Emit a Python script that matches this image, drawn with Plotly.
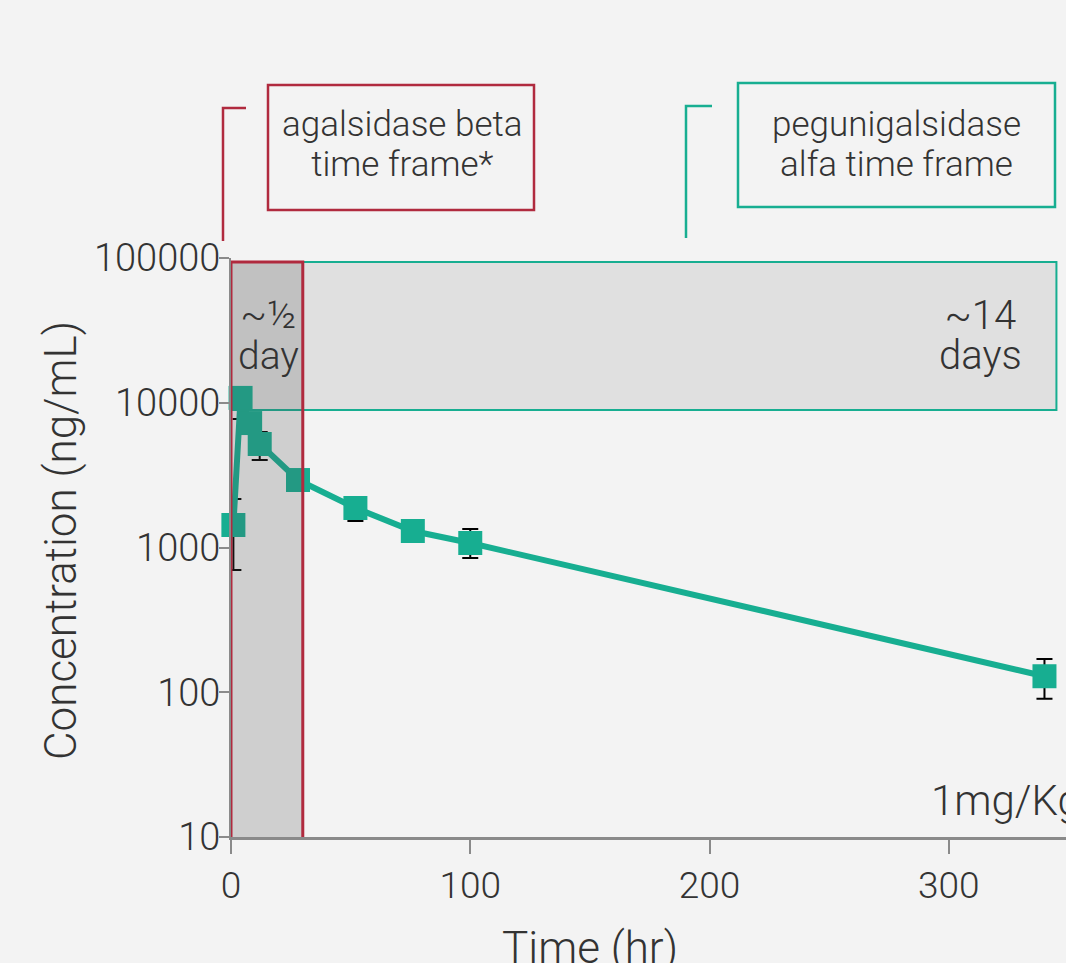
import plotly.graph_objects as go

# ---- data ----
time_hr = [1, 4, 8, 12, 28, 52, 76, 100, 340]
conc = [1430, 10800, 7240, 5190, 2925, 1875, 1300, 1074, 129]
err_plus = [730, 0, 0, 1090, 0, 350, 0, 269, 41]
err_minus = [730, 3070, 0, 1170, 0, 350, 0, 228, 39]

x_ticks = [0, 100, 200, 300]
y_ticks = [10, 100, 1000, 10000, 100000]
y_tick_text = ["10", "100", "1000", "10000", "100000"]

agal_window = [0, 30]          # hr
peg_window = [0, 345]          # hr

TEAL = "#17ae91"
RED = "#b02a3e"
TXT = "#333333"
FONT = "Roboto"

W, H = 1066, 963
ML, MR, MT, MB = 231, 0, 258, 126
PW, PH = W - ML - MR, H - MT - MB


def px(xp):
    return (xp - ML) / PW


def py(yp):
    return (H - MB - yp) / PH


fig = go.Figure()
fig.add_trace(go.Scatter(
    x=time_hr, y=conc, mode="lines+markers",
    line=dict(color=TEAL, width=6),
    marker=dict(symbol="square", size=24, color=TEAL),
    error_y=dict(type="data", symmetric=False, array=err_plus, arrayminus=err_minus,
                 color="black", thickness=2, width=8),
    showlegend=False, cliponaxis=False,
))

shapes = [
    # pegunigalsidase window (below data)
    dict(type="rect", xref="x", yref="y", x0=peg_window[0], x1=peg_window[1],
         y0=8910, y1=93800, fillcolor="#e0e0e0", line=dict(color=TEAL, width=2), layer="below"),
    # agalsidase window (above data)
    dict(type="rect", xref="x", yref="y", x0=agal_window[0], x1=agal_window[1],
         y0=9.4, y1=93800, fillcolor="rgba(84,84,84,0.22)", line=dict(color=RED, width=3), layer="above"),
    # label boxes
    dict(type="rect", xref="paper", yref="paper", x0=px(268), x1=px(534), y0=py(210), y1=py(85),
         line=dict(color=RED, width=2.5), fillcolor="rgba(0,0,0,0)"),
    dict(type="rect", xref="paper", yref="paper", x0=px(738), x1=px(1055), y0=py(207), y1=py(83),
         line=dict(color=TEAL, width=2.5), fillcolor="rgba(0,0,0,0)"),
    # brackets
    dict(type="path", xref="paper", yref="paper",
         path=f"M {px(246)} {py(108)} L {px(223)} {py(108)} L {px(223)} {py(241)}",
         line=dict(color=RED, width=2.5)),
    dict(type="path", xref="paper", yref="paper",
         path=f"M {px(712)} {py(106)} L {px(686)} {py(106)} L {px(686)} {py(238)}",
         line=dict(color=TEAL, width=2.5)),
]

ann = []


def add_text(text, xp, yp, size, xanchor="center", yanchor="middle", angle=0):
    ann.append(dict(text=text, xref="paper", yref="paper", x=px(xp), y=py(yp),
                    xanchor=xanchor, yanchor=yanchor, showarrow=False, textangle=angle,
                    font=dict(family=FONT, size=size, color=TXT, weight=300)))


def two_lines(a, b, xp, yp, size, spacing):
    base = spacing / 1.3
    s = f"font-size:{size}px"
    add_text(f"<span style='{s}'>{a}</span><br><span style='{s}'>{b}</span>", xp, yp, base)


two_lines("agalsidase beta", "time frame*", 402, 144, 35, 40)
two_lines("pegunigalsidase", "alfa time frame", 896, 144, 35, 40)
two_lines("~½", "day", 268, 335, 39, 41)
two_lines("~14", "days", 980, 335, 40, 40)
add_text("1mg/Kg", 929, 800, 42, xanchor="left")
add_text("Time (hr)", 590, 948, 44)
add_text("Concentration (ng/mL)", 61, 541, 44, angle=-90)

fig.update_layout(
    width=W, height=H,
    margin=dict(l=ML, r=MR, t=MT, b=MB, pad=0),
    paper_bgcolor="#f3f3f3", plot_bgcolor="#f3f3f3",
    shapes=shapes, annotations=ann,
    font=dict(family=FONT, color=TXT, weight=300),
)
fig.update_xaxes(
    range=[0, 349], tickvals=x_ticks, ticktext=[str(v) for v in x_ticks],
    showgrid=False, zeroline=False, showline=True, linecolor="#8a8a8a", linewidth=2.5,
    ticks="outside", ticklen=14, tickwidth=2, tickcolor="#8a8a8a",
    tickfont=dict(family=FONT, size=37, color=TXT, weight=300),
)
fig.update_yaxes(
    type="log", range=[1, 5], tickvals=y_ticks, ticktext=y_tick_text,
    showgrid=False, zeroline=False, showline=True, linecolor="#8a8a8a", linewidth=2,
    ticks="outside", ticklen=10, tickwidth=2, tickcolor="#8a8a8a",
    tickfont=dict(family=FONT, size=38, color=TXT, weight=300),
    ticklabelstandoff=-9,
)

fig.write_html(
    "out.html",
    config={"displayModeBar": False},
    post_script="document.body.style.margin='0';document.body.style.padding='0';"
                "document.body.style.overflow='hidden';"
                "document.body.style.background='#f3f3f3';",
)
